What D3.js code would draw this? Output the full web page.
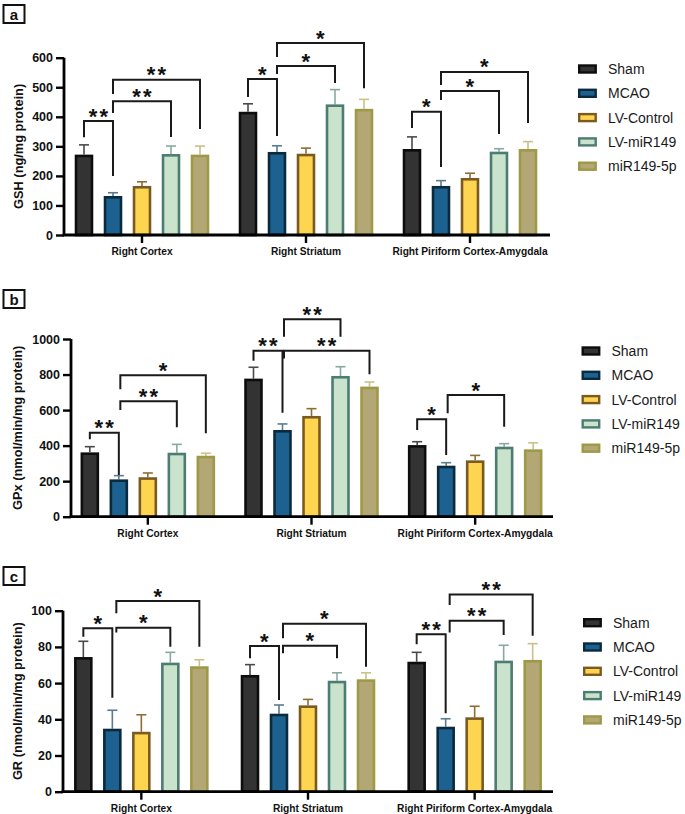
<!DOCTYPE html>
<html><head><meta charset="utf-8">
<script src="https://cdn.jsdelivr.net/npm/d3@7"></script>
<style>body{margin:0;background:#fff} svg{display:block;font-family:"Liberation Sans",Arial,sans-serif}</style>
</head><body><svg id="chart" width="685" height="814"></svg>
<script>
// ---------- DATA ----------
const categories = ["Right Cortex", "Right Striatum", "Right Piriform Cortex-Amygdala"];
const series = ["Sham", "MCAO", "LV-Control", "LV-miR149", "miR149-5p"];

const gshMean = [[272, 132, 166, 274, 272], [417, 281, 275, 442, 427], [291, 166, 193, 282, 291]];
const gshErr  = [[33, 11, 14, 27, 29], [27, 21, 19, 50, 32], [41, 18, 16, 10, 25]];
const gshTicks = [0, 100, 200, 300, 400, 500, 600];

const gpxMean = [[362, 210, 222, 360, 343], [777, 488, 567, 792, 732], [403, 287, 317, 394, 379]];
const gpxErr  = [[32, 21, 24, 47, 14], [64, 34, 41, 52, 26], [19, 17, 28, 17, 37]];
const gpxTicks = [0, 200, 400, 600, 800, 1000];

const grMean = [[74.4, 34.8, 33.1, 71.3, 69.3], [64.5, 43.1, 47.7, 61.3, 62.1], [71.8, 35.9, 41.1, 72.4, 72.8]];
const grErr  = [[8.7, 10.2, 9.4, 5.7, 3.6], [5.7, 4.8, 3.3, 4.4, 3.6], [5.2, 4.4, 6.1, 8.5, 9.0]];
const grTicks = [0, 20, 40, 60, 80, 100];

// significance brackets: [category index, from series, to series, label, top value, left leg end, right leg end]
const gshSig = [
  [0, 0, 1, "**", 386, 331, 200], [0, 1, 3, "**", 453, 413, 332], [0, 1, 4, "**", 525, 477, 359],
  [1, 0, 1, "*", 528, 467, 335], [1, 1, 3, "*", 572, 545, 514], [1, 1, 4, "*", 650, 602, 497],
  [2, 0, 1, "*", 417, 362, 230], [2, 1, 3, "*", 487, 457, 342], [2, 1, 4, "*", 552, 508, 379]
];
const gpxSig = [
  [0, 0, 1, "**", 473, 436, 235], [0, 1, 3, "**", 649, 600, 503], [0, 1, 4, "*", 796, 717, 469],
  [1, 0, 1, "**", 934, 878, 585], [1, 1, 3, "**", 1111, 1013, 1013], [1, 1, 4, "**", 934, 890, 802],
  [2, 0, 1, "*", 548, 488, 347], [2, 1, 3, "*", 685, 582, 506]
];
const grSig = [
  [0, 0, 1, "*", 90.3, 85.6, 51.9], [0, 1, 3, "*", 90.6, 88.0, 80.1], [0, 1, 4, "*", 105.4, 98.6, 80.1],
  [1, 0, 1, "*", 80.5, 73.7, 50.7], [1, 1, 3, "*", 80.7, 76.5, 73.7], [1, 1, 4, "*", 92.8, 84.8, 69.1],
  [2, 0, 1, "**", 87.0, 81.4, 43.3], [2, 1, 3, "**", 94.5, 88.0, 86.6], [2, 1, 4, "**", 109.0, 103.1, 86.2]
];

// ---------- STYLE ----------
const fills   = ["#333333", "#1d6190", "#fdd551", "#c9e3cc", "#b3a775"];
const strokes = ["#0d0d0d", "#0a2b3d", "#7a5a20", "#4d7c72", "#9e9946"];
const errCols = ["#4a4a4a", "#5b7c8f", "#8e6d33", "#86aaa3", "#c9c08a"];

const panels = [
  {letter: "a", mean: gshMean, err: gshErr, ticks: gshTicks, sig: gshSig, label: "GSH (ng/mg protein)",
   axisX: 64, axisEnd: 550, y0: 235, yTop: 57.7, range: [60, 552], boxY: 5, legendX: 578, legendY: 69, labelX: 18, legShift: 0},
  {letter: "b", mean: gpxMean, err: gpxErr, ticks: gpxTicks, sig: gpxSig, label: "GPx (nmol/min/mg protein)",
   axisX: 71, axisEnd: 553, y0: 516.7, yTop: 339, range: [66, 557], boxY: 290, legendX: 581.5, legendY: 351, labelX: 17, legShift: 1.5},
  {letter: "c", mean: grMean, err: grErr, ticks: grTicks, sig: grSig, label: "GR (nmol/min/mg protein)",
   axisX: 63, axisEnd: 553, y0: 791.7, yTop: 610.7, range: [58, 558], boxY: 567, legendX: 583, legendY: 622.7, labelX: 17, legShift: 4}
];

const svg = d3.select("#chart");

panels.forEach(p => {
  const g = svg.append("g");
  const maxTick = p.ticks[p.ticks.length - 1];
  const y = d3.scaleLinear().domain([0, maxTick]).range([p.y0, p.yTop]);
  const x0 = d3.scaleBand().domain(categories).range(p.range).padding(0);
  const x1 = d3.scaleBand().domain(series).range([-72.5, 72.5]).paddingInner(0.36).paddingOuter(0.18);
  const cx = (ci, si) => x0(categories[ci]) + x0.bandwidth() / 2 + x1(series[si]) + x1.bandwidth() / 2;
  const sw = 2.6;

  // panel letter box
  g.append("rect").attr("x", 3.5).attr("y", p.boxY).attr("width", 21).attr("height", 18)
    .attr("fill", "#fff").attr("stroke", "#111").attr("stroke-width", 2);
  g.append("text").attr("x", 14).attr("y", p.boxY + 14.5).attr("text-anchor", "middle")
    .attr("font-size", 15).attr("font-weight", "bold").attr("fill", "#111").text(p.letter);

  const cells = [];
  p.mean.forEach((row, ci) => row.forEach((v, si) => cells.push({ci, si, v, e: p.err[ci][si]})));
  const bw = x1.bandwidth();

  // error bars
  const eb = g.append("g");
  cells.forEach(d => {
    const c = cx(d.ci, d.si);
    eb.append("line").attr("x1", c).attr("x2", c).attr("y1", y(d.v)).attr("y2", y(d.v + d.e))
      .attr("stroke", errCols[d.si]).attr("stroke-width", 1.6);
    eb.append("line").attr("x1", c - 5).attr("x2", c + 5).attr("y1", y(d.v + d.e)).attr("y2", y(d.v + d.e))
      .attr("stroke", errCols[d.si]).attr("stroke-width", 1.6);
  });

  // bars
  g.append("g").selectAll("rect").data(cells).join("rect")
    .attr("x", d => cx(d.ci, d.si) - bw / 2 + sw / 2)
    .attr("width", bw - sw)
    .attr("y", d => y(d.v) + sw / 2)
    .attr("height", d => Math.max(0, y(0) - y(d.v) - sw / 2))
    .attr("fill", d => fills[d.si])
    .attr("stroke", d => strokes[d.si])
    .attr("stroke-width", sw);

  // y axis
  const yAxis = d3.axisLeft(y).tickValues(p.ticks).tickSize(8).tickPadding(3).tickFormat(d3.format("d"));
  const ya = g.append("g").attr("transform", `translate(${p.axisX},0)`).call(yAxis);
  ya.select(".domain").attr("d", `M0,${y(maxTick)}V${p.y0}`).attr("stroke", "#000").attr("stroke-width", 2.8);
  ya.selectAll(".tick line").attr("stroke", "#000").attr("stroke-width", 2.4);
  ya.selectAll(".tick text").attr("font-size", 12.5).attr("font-weight", "bold").attr("fill", "#111")
    .attr("font-family", "Liberation Sans, Arial, sans-serif");

  // x axis
  const xAxis = d3.axisBottom(x0).tickSize(8).tickPadding(5);
  const xa = g.append("g").attr("transform", `translate(0,${p.y0})`).call(xAxis);
  xa.select(".domain").attr("d", `M${p.axisX - 1.4},0H${p.axisEnd}`).attr("stroke", "#000").attr("stroke-width", 2.8);
  xa.selectAll(".tick line").attr("stroke", "#000").attr("stroke-width", 2.4);
  xa.selectAll(".tick text").attr("font-size", 10.2).attr("font-weight", "bold").attr("fill", "#111")
    .attr("font-family", "Liberation Sans, Arial, sans-serif");

  // y label
  g.append("text").attr("transform", `translate(${p.labelX},${(p.y0 + p.yTop) / 2}) rotate(-90)`)
    .attr("text-anchor", "middle").attr("dominant-baseline", "central")
    .attr("font-size", 12.8).attr("font-weight", "bold").attr("fill", "#111").text(p.label);

  // significance brackets
  const sg = g.append("g");
  p.sig.forEach(([ci, a, b, lab, top, l, r]) => {
    const xa_ = cx(ci, a) + (a === 1 ? p.legShift : 0), xb = cx(ci, b);
    sg.append("path")
      .attr("d", `M${xa_},${y(l)}V${y(top)}H${xb}V${y(r)}`)
      .attr("fill", "none").attr("stroke", "#1a1a1a").attr("stroke-width", 2);
    sg.append("text").attr("x", (xa_ + xb) / 2 + 1).attr("y", y(top) - 10 + 12.6)
      .attr("text-anchor", "middle").attr("font-size", 22).attr("font-weight", "bold")
      .attr("letter-spacing", 2.2).attr("fill", "#111").text(lab);
  });

  // legend
  const lg = g.append("g").attr("transform", `translate(${p.legendX},${p.legendY})`);
  series.forEach((s, i) => {
    const row = lg.append("g").attr("transform", `translate(0,${i * 24.3})`);
    row.append("rect").attr("x", 1.2).attr("y", -3.5).attr("width", 16.5).attr("height", 7)
      .attr("fill", fills[i]).attr("stroke", strokes[i]).attr("stroke-width", 2.4);
    row.append("text").attr("x", 30).attr("y", 0).attr("dominant-baseline", "central")
      .attr("font-size", 14).attr("fill", "#1a1a1a").text(s);
  });
});
</script></body></html>
